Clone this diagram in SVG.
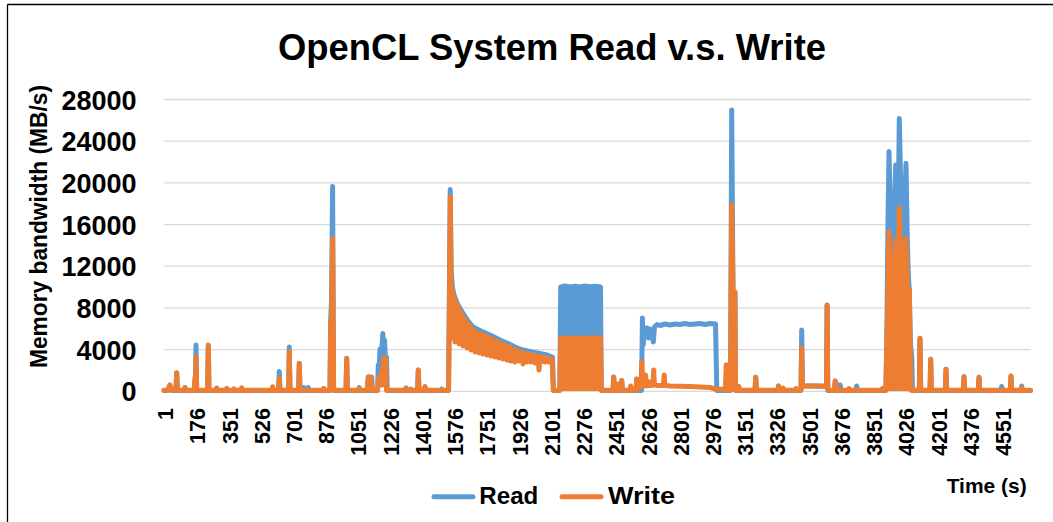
<svg xmlns="http://www.w3.org/2000/svg" width="1053" height="522" viewBox="0 0 1053 522">
  <style>
    text { font-family: "Liberation Sans", Arial, sans-serif; font-weight: bold; fill: #000; }
    .grid { stroke: #D9D9D9; stroke-width: 1.3; fill: none; }
    .frame { stroke: #000; stroke-width: 1.3; fill: none; }
    .ytick { font-size: 27px; text-anchor: end; }
    .xtick { font-size: 21.5px; text-anchor: end; }
    .series { fill: none; stroke-width: 5; stroke-linejoin: round; stroke-linecap: round; }
    .read { stroke: #5B9BD5; }
    .write { stroke: #ED7D31; }
    .readFill { fill: #5B9BD5; stroke: none; }
    .writeFill { fill: #ED7D31; stroke: none; }
  </style>
  <rect width="1053" height="522" fill="#fff"/>

  <!-- chart area frame (top and left edges) -->
  <g id="frame">
    <line class="frame" x1="7.5" y1="4.5" x2="1053" y2="4.5"/>
    <line class="frame" x1="7.5" y1="4.5" x2="7.5" y2="522"/>
  </g>

  <g id="title">
    <text x="552" y="60" font-size="37" text-anchor="middle" textLength="548" lengthAdjust="spacingAndGlyphs">OpenCL System Read v.s. Write</text>
  </g>

  <!-- horizontal gridlines every 4000 MB/s -->
  <g id="gridlines">
    <line class="grid" x1="164" y1="99.5" x2="1031" y2="99.5"/>
    <line class="grid" x1="164" y1="141.2" x2="1031" y2="141.2"/>
    <line class="grid" x1="164" y1="182.9" x2="1031" y2="182.9"/>
    <line class="grid" x1="164" y1="224.6" x2="1031" y2="224.6"/>
    <line class="grid" x1="164" y1="266.2" x2="1031" y2="266.2"/>
    <line class="grid" x1="164" y1="307.9" x2="1031" y2="307.9"/>
    <line class="grid" x1="164" y1="349.6" x2="1031" y2="349.6"/>
    <line class="grid" x1="164" y1="391.3" x2="1031" y2="391.3"/>
  </g>

  <g id="y-axis">
    <text class="ytick" x="136.5" y="109.5">28000</text>
    <text class="ytick" x="136.5" y="151.2">24000</text>
    <text class="ytick" x="136.5" y="192.9">20000</text>
    <text class="ytick" x="136.5" y="234.6">16000</text>
    <text class="ytick" x="136.5" y="276.2">12000</text>
    <text class="ytick" x="136.5" y="317.9">8000</text>
    <text class="ytick" x="136.5" y="359.6">4000</text>
    <text class="ytick" x="136.5" y="401.3">0</text>
    <text x="46.5" y="226.5" font-size="23" text-anchor="middle" textLength="283" lengthAdjust="spacingAndGlyphs" transform="rotate(-90 46.5 226.5)">Memory bandwidth (MB/s)</text>
  </g>

  <g id="x-axis">
    <text class="xtick" x="173" y="408" transform="rotate(-90 173 408)">1</text>
    <text class="xtick" x="205.2" y="408" transform="rotate(-90 205.2 408)">176</text>
    <text class="xtick" x="237.5" y="408" transform="rotate(-90 237.5 408)">351</text>
    <text class="xtick" x="269.7" y="408" transform="rotate(-90 269.7 408)">526</text>
    <text class="xtick" x="301.9" y="408" transform="rotate(-90 301.9 408)">701</text>
    <text class="xtick" x="334.2" y="408" transform="rotate(-90 334.2 408)">876</text>
    <text class="xtick" x="366.4" y="408" transform="rotate(-90 366.4 408)">1051</text>
    <text class="xtick" x="398.6" y="408" transform="rotate(-90 398.6 408)">1226</text>
    <text class="xtick" x="430.8" y="408" transform="rotate(-90 430.8 408)">1401</text>
    <text class="xtick" x="463.1" y="408" transform="rotate(-90 463.1 408)">1576</text>
    <text class="xtick" x="495.3" y="408" transform="rotate(-90 495.3 408)">1751</text>
    <text class="xtick" x="527.5" y="408" transform="rotate(-90 527.5 408)">1926</text>
    <text class="xtick" x="559.8" y="408" transform="rotate(-90 559.8 408)">2101</text>
    <text class="xtick" x="592" y="408" transform="rotate(-90 592 408)">2276</text>
    <text class="xtick" x="624.2" y="408" transform="rotate(-90 624.2 408)">2451</text>
    <text class="xtick" x="656.5" y="408" transform="rotate(-90 656.5 408)">2626</text>
    <text class="xtick" x="688.7" y="408" transform="rotate(-90 688.7 408)">2801</text>
    <text class="xtick" x="720.9" y="408" transform="rotate(-90 720.9 408)">2976</text>
    <text class="xtick" x="753.1" y="408" transform="rotate(-90 753.1 408)">3151</text>
    <text class="xtick" x="785.4" y="408" transform="rotate(-90 785.4 408)">3326</text>
    <text class="xtick" x="817.6" y="408" transform="rotate(-90 817.6 408)">3501</text>
    <text class="xtick" x="849.8" y="408" transform="rotate(-90 849.8 408)">3676</text>
    <text class="xtick" x="882.1" y="408" transform="rotate(-90 882.1 408)">3851</text>
    <text class="xtick" x="914.3" y="408" transform="rotate(-90 914.3 408)">4026</text>
    <text class="xtick" x="946.5" y="408" transform="rotate(-90 946.5 408)">4201</text>
    <text class="xtick" x="978.8" y="408" transform="rotate(-90 978.8 408)">4376</text>
    <text class="xtick" x="1011" y="408" transform="rotate(-90 1011 408)">4551</text>
    <text x="946.7" y="493.3" font-size="21" textLength="80" lengthAdjust="spacingAndGlyphs">Time (s)</text>
  </g>

  <!-- Read series -->
  <g id="series-read">
    <rect class="readFill" x="560.7" y="287" width="40" height="104"/>
    <polygon class="readFill" points="886,391 886.7,348 888,220 889,151.5 890.5,215 892.3,203 894,225 895.7,165 897,240 898.2,215 899.3,118.5 900.8,190 902.3,200 903.8,230 906,163.3 907.3,240 908.3,275 909.3,290 910.5,345 911.7,356 912.5,391"/>
    <polyline class="series read" points="164,390.5 168,390.5 170,387 172,390.5 176,390.5 176.7,373 177.4,390.5 184.3,390.5 185,387.5 185.7,390.5 195.3,390.5 196,345 196.7,390.5 207.6,390.5 208.3,345.5 209,390.5 216.2,390.5 216.7,388 217.2,390.5 226.2,390.5 226.7,388.5 227.2,390.5 241.2,390.5 241.7,388 242.2,390.5 272.2,390.5 272.7,387.5 273.2,390.5 278.6,390.5 279.3,371.5 280,390.5 288.6,390.5 289.3,347 290,390.5 298.6,390.5 299.3,363.5 300,390.5 303,390.5 303.7,387.5 304.4,390.5 307.5,390.5 308.2,387.5 308.9,390.5 323,390.5 323.7,388.5 324.4,390.5 330,390.5 330.6,322 331.5,300 332.6,186.5 333.6,390.5 346,390.5 346.7,358.5 347.4,390.5 358.5,390.5 359.2,387.5 359.9,390.5 367.5,390.5 368.2,377 369,390.5 371,390.5 371.7,377 372.4,390.5 377.5,390.5 378.3,365 379,372 380,349 381,355 382,347 382.8,333.5 383.6,350 384.5,340 385.5,360 386.5,357 387.3,390.5 405.3,390.5 406,388 406.7,390.5 410,390.5 410.7,389 411.4,390.5 417.6,390.5 418.3,370 419,390.5 424.3,390.5 425,387.5 425.7,390.5 441,390.5 441.7,389 442.4,390.5 448.5,390.5 449.3,300 450.2,189.5 451.2,270 452.3,287 454,295 457,303 462,312 468,321 473,327 480,330.5 490,335 500,340 507,343 515,347 523,350 532,352 540,353.5 547,355 552.5,357 553.5,390.5 559.8,390.5 560.7,287 565,286 570,287 575,286.3 580,287 585,286 590,286.7 595,286.2 600.5,287 601.3,390.5 613,390.5 613.7,377 614.4,390.5 621,390.5 621.7,380.5 622.4,390.5 636,390.5 636.7,379 637.4,390.5 641.6,390.5 642.4,318 643.2,345 644.5,330 646,333 647,328 648.5,338 650,329 652,331 653.3,342 654.5,327 657,324.5 660,325.5 665,324 670,325 675,324 680,324.5 685,323.5 690,324.5 695,324 700,323.5 705,324.5 710,323.5 715.5,324 716.8,390.5 726,390.5 726.7,365 727.4,390.5 730.5,390.5 731.7,110 733,291 735,292 735.6,390.5 738,390.5 738.7,386.5 739.4,390.5 755,390.5 755.7,377.3 756.4,390.5 778,390.5 778.5,386 779,390.5 801,390.5 801.7,330 802.5,386.5 803.5,386 815,386 826.5,386.3 827.1,305 827.8,390.5 834.5,390.5 835.2,381 836.2,384 837,390.5 839.5,390.5 840.2,385 840.9,390.5 856,390.5 856.7,386 857.4,390.5 882,390.5 882.7,388.5 883.4,390.5 886,390.5 886.7,348 888,220 889,151.5 890.5,215 892.3,203 894,225 895.7,165 897,240 898.2,215 899.3,118.5 900.8,190 902.3,200 903.8,230 906,163.3 907.3,240 908.3,275 909.3,290 910.5,345 911.7,356 912.5,390.5 919.3,390.5 920,338.3 920.7,390.5 930,390.5 930.7,359.3 931.4,390.5 945.3,390.5 946,369.3 946.7,390.5 963.3,390.5 964,376.7 964.7,390.5 978.3,390.5 979,377.3 979.7,390.5 1001,390.5 1001.7,386.5 1002.4,390.5 1010.3,390.5 1011,376 1011.7,390.5 1021,390.5 1021.7,386 1022.4,390.5 1030.5,390.5"/>
  </g>

  <!-- Write series -->
  <g id="series-write">
    <rect class="writeFill" x="560.7" y="338.3" width="40" height="52.7"/>
    <polygon class="writeFill" points="885.8,391 886.7,348 888,290 889,231.7 890.5,275 892.3,265 894,285 895.7,240 897,290 898.2,270 899.3,208.3 900.8,255 902.3,263 903.8,285 906,238.3 907.3,285 908.3,300 909.3,290 910.3,360 911,391"/>
    <polyline class="series write" points="164,390.3 168,390.3 169,386.5 170,385 171,388 172,390.3 176,390.3 176.7,372.7 177.4,390.3 184.3,390.3 185,387.5 185.7,390.3 194.2,390.3 194.8,378 195.4,388 196,356.7 196.7,390.3 207.6,390.3 208.3,345 209,390.3 216.2,390.3 216.7,388.5 217.2,390.3 226.2,390.3 226.7,388.5 227.2,390.3 233.5,390.3 234,388.8 234.5,390.3 241.2,390.3 241.7,388 242.2,390.3 272.2,390.3 272.7,386.8 273.2,390.3 278.6,390.3 279.3,378 280,390.3 288.6,390.3 289.3,351.7 290,390.3 298.6,390.3 299.3,363.3 300,390.3 323,390.3 323.5,388.5 324,390.3 330,390.3 330.7,321.7 331.5,330 332.6,238.3 333.6,390.3 346,390.3 346.7,358.3 347.4,390.3 358.8,390.3 359.3,388.5 359.8,390.3 367.3,390.3 368,380 369,376.7 370,385 371,378 371.8,390.3 377.5,390.3 378.3,385 379.5,376 380.5,385 381.5,372 382.5,385 383.6,358.3 384.6,362 385.5,358.3 386.5,390.3 405.5,390.3 406,388 406.5,390.3 417.6,390.3 418.3,370 419,390.3 424.3,390.3 425,386.5 425.7,390.3 448.6,390.3 449.5,300 450.3,196.7 451.2,300 451.8,338 452.5,291 453.3,338 454,297 455,342 456,302 457,340 458,306 459,344 460,311 461,341 462,314 463,346 464,318 465,343 466,321 467,348 468,324 469,345 470,326 471,350 472,329 473,347 474,330.5 475,352 476,332 477,349 478,333 479,353 480,333.5 481,350 482,334.5 483,354 484,335.5 485,351 486,336 487,355 488,337 489,352 490,338 491,356 492,339 493,353 494,340 495,357 496,341 497,354 498,342 499,358 500,343 501,355 502,344 503,359 504,344.5 505,356 506,345.5 507,360 508,346.5 509,357 510,347.5 511,361 512,348.5 513,358 514,349.5 515,362 516,350.5 517,359 518,351 519,361 520,352 521,360 522,352.5 523,364 524,353 525,361 526,353.5 527,362 528,354 529,360 530,354.5 531,362 532,355 533,361 534,355.5 535,363 536,356 537,360 538,356.5 539,370 540,356.5 541,362 542,357 543,361 544,357.5 545,362 546,358 547,361 548,358.5 549,362 550,359 551,361 552,359 553.3,390.3 559.8,390.3 560.7,338.3 565,338 570,338.5 575,338 580,338.3 585,338 590,338.5 595,338 600.5,338.3 601.3,390.3 613,390.3 613.7,377 614.4,390.3 617,390.3 617.7,384 618.4,390.3 621,390.3 621.7,380.5 622.4,390.3 630,390.3 630.7,386 631.4,390.3 636,390.3 636.7,379 637.4,389 639,388 641,387 641.8,361.5 642.6,386 644,386 645.5,375 646.5,386 648,385.5 649,382 650,385.5 653,385 653.7,370 654.4,385 658,385.5 663.5,385.5 664.2,375 664.9,385.5 670,386 680,386.3 690,386.5 700,387 710,387.5 716,389 725.5,389.5 726.2,365 726.9,390 730.5,390.3 731.7,205 733,291.7 734.8,292 735.6,390.3 738,390.3 738.7,386.5 739.4,390.3 755,390.3 755.7,377.3 756.4,390.3 778,390.3 778.5,386 779,390.3 782,390.3 783,388 784,390.3 795,390.3 796,388.5 797,390.3 801,390.3 801.7,348.3 802.4,386.5 803.5,386 815,386 826.5,386.3 827.1,305 827.8,390.3 834.5,390.3 835.2,381 836.2,384 837,390.3 848,390.3 849,388.5 850,390.3 882,390.3 882.7,388.5 883.4,390.3 885.8,390.3 886.7,348 888,290 889,231.7 890.5,275 892.3,265 894,285 895.7,240 897,290 898.2,270 899.3,208.3 900.8,255 902.3,263 903.8,285 906,238.3 907.3,285 908.3,300 909.3,290 910.3,360 911,390.3 919.3,390.3 920,338.3 920.7,390.3 930,390.3 930.7,359.3 931.4,390.3 945.3,390.3 946,369.3 946.7,390.3 963.3,390.3 964,376.7 964.7,390.3 978.3,390.3 979,377.3 979.7,390.3 1010.3,390.3 1011,376 1011.7,390.3 1021,390.3 1021.7,388 1022.4,390.3 1030.5,390.3"/>
  </g>

  <g id="legend">
    <line class="series read" x1="434" y1="496.7" x2="473" y2="496.7"/>
    <text x="479.3" y="504" font-size="24" textLength="59" lengthAdjust="spacingAndGlyphs">Read</text>
    <line class="series write" x1="562" y1="496.7" x2="601" y2="496.7"/>
    <text x="608" y="504" font-size="24" textLength="67" lengthAdjust="spacingAndGlyphs">Write</text>
  </g>
</svg>
